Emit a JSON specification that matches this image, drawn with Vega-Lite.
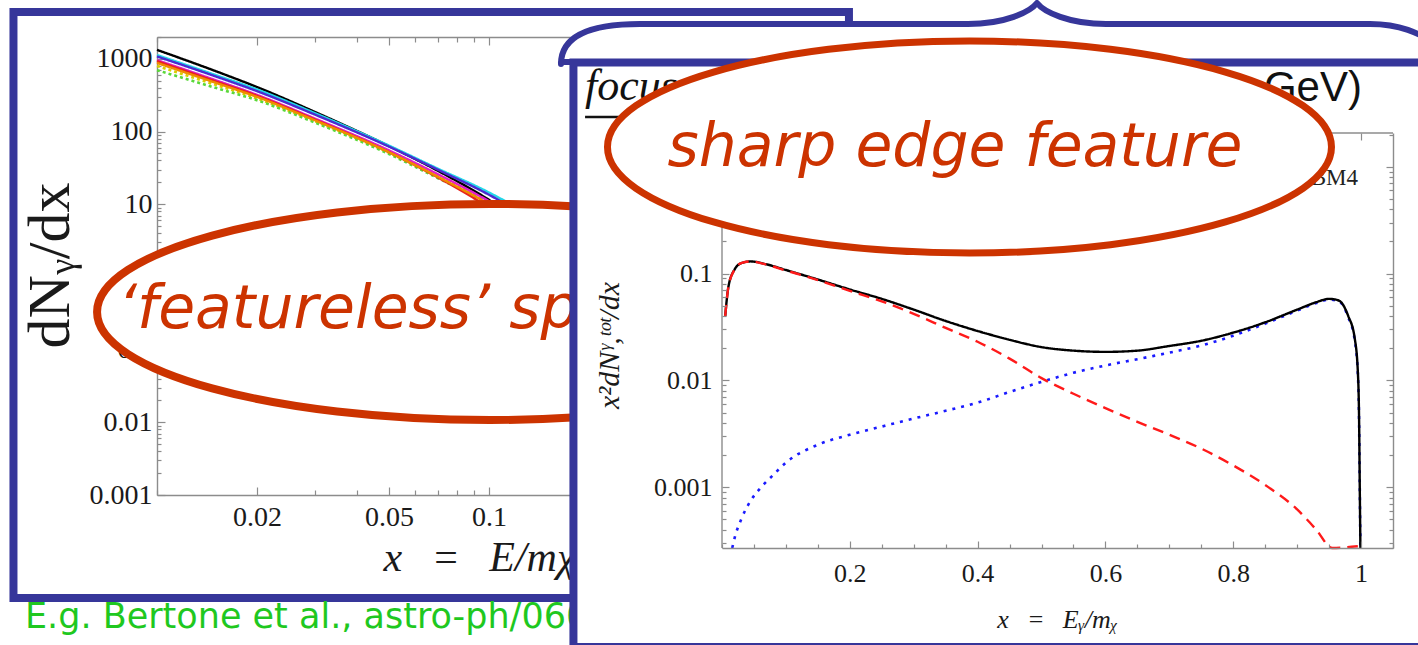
{
  "$schema": "https://vega.github.io/schema/vega-lite/v6.json",
  "background": "white",
  "padding": 0,
  "autosize": {"type": "none"},
  "width": 1418,
  "height": 645,
  "config": {
    "view": {"stroke": null},
    "axis": {
      "grid": false,
      "domainColor": "#8c8c8c", "domainWidth": 1.4,
      "tickColor": "#8c8c8c", "tickWidth": 1.2,
      "labelFont": "Liberation Serif", "labelColor": "#1a1a1a",
      "labelFlush": false, "labelOverlap": false,
      "titleFont": "Liberation Serif", "titleFontWeight": "normal", "titleColor": "#1a1a1a"
    }
  },
  "datasets": {
    "bertone": [
      {"channel": "bb", "x": 0.01, "dNdx": 1330}, {"channel": "bb", "x": 0.015, "dNdx": 680}, {"channel": "bb", "x": 0.02, "dNdx": 410}, {"channel": "bb", "x": 0.03, "dNdx": 185}, {"channel": "bb", "x": 0.05, "dNdx": 63}, {"channel": "bb", "x": 0.07, "dNdx": 29}, {"channel": "bb", "x": 0.1, "dNdx": 11.5}, {"channel": "bb", "x": 0.15, "dNdx": 3.2}, {"channel": "bb", "x": 0.2, "dNdx": 1.0},
      {"channel": "WW", "x": 0.01, "dNdx": 1130}, {"channel": "WW", "x": 0.015, "dNdx": 600}, {"channel": "WW", "x": 0.02, "dNdx": 380}, {"channel": "WW", "x": 0.03, "dNdx": 178}, {"channel": "WW", "x": 0.05, "dNdx": 64}, {"channel": "WW", "x": 0.07, "dNdx": 31}, {"channel": "WW", "x": 0.1, "dNdx": 14.5}, {"channel": "WW", "x": 0.15, "dNdx": 5.0}, {"channel": "WW", "x": 0.2, "dNdx": 2.0},
      {"channel": "ZZ", "x": 0.01, "dNdx": 1080}, {"channel": "ZZ", "x": 0.015, "dNdx": 575}, {"channel": "ZZ", "x": 0.02, "dNdx": 360}, {"channel": "ZZ", "x": 0.03, "dNdx": 170}, {"channel": "ZZ", "x": 0.05, "dNdx": 62}, {"channel": "ZZ", "x": 0.07, "dNdx": 30}, {"channel": "ZZ", "x": 0.1, "dNdx": 13.5}, {"channel": "ZZ", "x": 0.15, "dNdx": 4.5}, {"channel": "ZZ", "x": 0.2, "dNdx": 1.7},
      {"channel": "tt", "x": 0.01, "dNdx": 960}, {"channel": "tt", "x": 0.015, "dNdx": 510}, {"channel": "tt", "x": 0.02, "dNdx": 320}, {"channel": "tt", "x": 0.03, "dNdx": 150}, {"channel": "tt", "x": 0.05, "dNdx": 55}, {"channel": "tt", "x": 0.07, "dNdx": 26}, {"channel": "tt", "x": 0.1, "dNdx": 11}, {"channel": "tt", "x": 0.15, "dNdx": 3.5}, {"channel": "tt", "x": 0.2, "dNdx": 1.2},
      {"channel": "cc", "x": 0.01, "dNdx": 930}, {"channel": "cc", "x": 0.015, "dNdx": 490}, {"channel": "cc", "x": 0.02, "dNdx": 310}, {"channel": "cc", "x": 0.03, "dNdx": 145}, {"channel": "cc", "x": 0.05, "dNdx": 52}, {"channel": "cc", "x": 0.07, "dNdx": 23.5}, {"channel": "cc", "x": 0.1, "dNdx": 9.0}, {"channel": "cc", "x": 0.15, "dNdx": 2.4}, {"channel": "cc", "x": 0.2, "dNdx": 0.7},
      {"channel": "uu", "x": 0.01, "dNdx": 880}, {"channel": "uu", "x": 0.015, "dNdx": 470}, {"channel": "uu", "x": 0.02, "dNdx": 300}, {"channel": "uu", "x": 0.03, "dNdx": 142}, {"channel": "uu", "x": 0.05, "dNdx": 52}, {"channel": "uu", "x": 0.07, "dNdx": 24}, {"channel": "uu", "x": 0.1, "dNdx": 10}, {"channel": "uu", "x": 0.15, "dNdx": 3.0}, {"channel": "uu", "x": 0.2, "dNdx": 1.0},
      {"channel": "ss", "x": 0.01, "dNdx": 800}, {"channel": "ss", "x": 0.015, "dNdx": 440}, {"channel": "ss", "x": 0.02, "dNdx": 285}, {"channel": "ss", "x": 0.03, "dNdx": 138}, {"channel": "ss", "x": 0.05, "dNdx": 51}, {"channel": "ss", "x": 0.07, "dNdx": 24}, {"channel": "ss", "x": 0.1, "dNdx": 10.5}, {"channel": "ss", "x": 0.15, "dNdx": 3.3}, {"channel": "ss", "x": 0.2, "dNdx": 1.1},
      {"channel": "gg", "x": 0.01, "dNdx": 700}, {"channel": "gg", "x": 0.015, "dNdx": 400}, {"channel": "gg", "x": 0.02, "dNdx": 270}, {"channel": "gg", "x": 0.03, "dNdx": 132}, {"channel": "gg", "x": 0.05, "dNdx": 49}, {"channel": "gg", "x": 0.07, "dNdx": 23}, {"channel": "gg", "x": 0.1, "dNdx": 10.2}, {"channel": "gg", "x": 0.15, "dNdx": 3.2}, {"channel": "gg", "x": 0.2, "dNdx": 1.1}
    ],
    "bm4": [
      {"component": "total", "x": 0.005, "x2dNdx": 0.04}, {"component": "total", "x": 0.01, "x2dNdx": 0.075}, {"component": "total", "x": 0.02, "x2dNdx": 0.11}, {"component": "total", "x": 0.03, "x2dNdx": 0.125}, {"component": "total", "x": 0.045, "x2dNdx": 0.13}, {"component": "total", "x": 0.07, "x2dNdx": 0.122}, {"component": "total", "x": 0.1, "x2dNdx": 0.108}, {"component": "total", "x": 0.15, "x2dNdx": 0.088}, {"component": "total", "x": 0.2, "x2dNdx": 0.071}, {"component": "total", "x": 0.25, "x2dNdx": 0.058}, {"component": "total", "x": 0.3, "x2dNdx": 0.046}, {"component": "total", "x": 0.35, "x2dNdx": 0.036}, {"component": "total", "x": 0.4, "x2dNdx": 0.029}, {"component": "total", "x": 0.45, "x2dNdx": 0.024}, {"component": "total", "x": 0.5, "x2dNdx": 0.0205}, {"component": "total", "x": 0.55, "x2dNdx": 0.019}, {"component": "total", "x": 0.6, "x2dNdx": 0.0185}, {"component": "total", "x": 0.65, "x2dNdx": 0.019}, {"component": "total", "x": 0.7, "x2dNdx": 0.021}, {"component": "total", "x": 0.75, "x2dNdx": 0.0235}, {"component": "total", "x": 0.8, "x2dNdx": 0.028}, {"component": "total", "x": 0.85, "x2dNdx": 0.035}, {"component": "total", "x": 0.9, "x2dNdx": 0.046}, {"component": "total", "x": 0.93, "x2dNdx": 0.054}, {"component": "total", "x": 0.95, "x2dNdx": 0.058}, {"component": "total", "x": 0.965, "x2dNdx": 0.056}, {"component": "total", "x": 0.98, "x2dNdx": 0.04}, {"component": "total", "x": 0.99, "x2dNdx": 0.025}, {"component": "total", "x": 0.995, "x2dNdx": 0.012}, {"component": "total", "x": 0.997, "x2dNdx": 0.004}, {"component": "total", "x": 0.998, "x2dNdx": 0.001}, {"component": "total", "x": 0.999, "x2dNdx": 0.00027},
      {"component": "secondary", "x": 0.005, "x2dNdx": 0.04}, {"component": "secondary", "x": 0.01, "x2dNdx": 0.075}, {"component": "secondary", "x": 0.02, "x2dNdx": 0.11}, {"component": "secondary", "x": 0.03, "x2dNdx": 0.125}, {"component": "secondary", "x": 0.045, "x2dNdx": 0.13}, {"component": "secondary", "x": 0.07, "x2dNdx": 0.121}, {"component": "secondary", "x": 0.1, "x2dNdx": 0.107}, {"component": "secondary", "x": 0.15, "x2dNdx": 0.087}, {"component": "secondary", "x": 0.2, "x2dNdx": 0.069}, {"component": "secondary", "x": 0.25, "x2dNdx": 0.055}, {"component": "secondary", "x": 0.3, "x2dNdx": 0.042}, {"component": "secondary", "x": 0.35, "x2dNdx": 0.031}, {"component": "secondary", "x": 0.4, "x2dNdx": 0.023}, {"component": "secondary", "x": 0.45, "x2dNdx": 0.016}, {"component": "secondary", "x": 0.5, "x2dNdx": 0.0105}, {"component": "secondary", "x": 0.55, "x2dNdx": 0.0075}, {"component": "secondary", "x": 0.6, "x2dNdx": 0.0055}, {"component": "secondary", "x": 0.65, "x2dNdx": 0.0041}, {"component": "secondary", "x": 0.7, "x2dNdx": 0.0031}, {"component": "secondary", "x": 0.75, "x2dNdx": 0.0023}, {"component": "secondary", "x": 0.8, "x2dNdx": 0.0016}, {"component": "secondary", "x": 0.85, "x2dNdx": 0.00105}, {"component": "secondary", "x": 0.9, "x2dNdx": 0.00062}, {"component": "secondary", "x": 0.93, "x2dNdx": 0.0004}, {"component": "secondary", "x": 0.955, "x2dNdx": 0.00027}, {"component": "secondary", "x": 0.995, "x2dNdx": 0.00028},
      {"component": "IB", "x": 0.016, "x2dNdx": 0.00027}, {"component": "IB", "x": 0.02, "x2dNdx": 0.00034}, {"component": "IB", "x": 0.03, "x2dNdx": 0.0005}, {"component": "IB", "x": 0.045, "x2dNdx": 0.00075}, {"component": "IB", "x": 0.06, "x2dNdx": 0.00098}, {"component": "IB", "x": 0.08, "x2dNdx": 0.0013}, {"component": "IB", "x": 0.1, "x2dNdx": 0.0017}, {"component": "IB", "x": 0.15, "x2dNdx": 0.0025}, {"component": "IB", "x": 0.2, "x2dNdx": 0.0031}, {"component": "IB", "x": 0.25, "x2dNdx": 0.0037}, {"component": "IB", "x": 0.3, "x2dNdx": 0.0044}, {"component": "IB", "x": 0.35, "x2dNdx": 0.0052}, {"component": "IB", "x": 0.4, "x2dNdx": 0.0062}, {"component": "IB", "x": 0.45, "x2dNdx": 0.0078}, {"component": "IB", "x": 0.5, "x2dNdx": 0.0097}, {"component": "IB", "x": 0.55, "x2dNdx": 0.0118}, {"component": "IB", "x": 0.6, "x2dNdx": 0.0138}, {"component": "IB", "x": 0.65, "x2dNdx": 0.0158}, {"component": "IB", "x": 0.7, "x2dNdx": 0.0182}, {"component": "IB", "x": 0.75, "x2dNdx": 0.0212}, {"component": "IB", "x": 0.8, "x2dNdx": 0.0262}, {"component": "IB", "x": 0.85, "x2dNdx": 0.034}, {"component": "IB", "x": 0.9, "x2dNdx": 0.045}, {"component": "IB", "x": 0.93, "x2dNdx": 0.053}, {"component": "IB", "x": 0.95, "x2dNdx": 0.057}, {"component": "IB", "x": 0.965, "x2dNdx": 0.055}, {"component": "IB", "x": 0.98, "x2dNdx": 0.039}, {"component": "IB", "x": 0.99, "x2dNdx": 0.024}, {"component": "IB", "x": 0.995, "x2dNdx": 0.0115}, {"component": "IB", "x": 0.997, "x2dNdx": 0.0038}, {"component": "IB", "x": 0.998, "x2dNdx": 0.001}, {"component": "IB", "x": 0.999, "x2dNdx": 0.00027}
    ]
  },
  "resolve": {"scale": {"x": "independent", "y": "independent", "color": "independent", "strokeDash": "independent"}},
  "layer": [
    {
      "data": {"values": [{}]},
      "mark": {"type": "rect", "filled": false, "stroke": "#36369a", "strokeWidth": 8},
      "encoding": {
        "x": {"datum": 0.95, "type": "quantitative", "scale": {"domain": [0, 100], "range": [0, 1418], "nice": false, "zero": false}, "axis": null},
        "x2": {"datum": 59.87},
        "y": {"datum": 1.86, "type": "quantitative", "scale": {"domain": [0, 100], "range": [0, 645], "nice": false, "zero": false}, "axis": null},
        "y2": {"datum": 92.71}
      }
    },
    {
      "data": {"name": "bertone"},
      "transform": [{"filter": {"field": "channel", "oneOf": ["ss", "gg"]}}],
      "mark": {"type": "line", "strokeWidth": 2.6, "interpolate": "monotone"},
      "encoding": {
        "x": {"field": "x", "type": "quantitative",
          "scale": {"type": "log", "domain": [0.01, 1], "range": [157, 821], "nice": false},
          "axis": {"orient": "top", "offset": -37, "zindex": 0, "labels": false, "title": null,
            "values": [0.01, 0.02, 0.03, 0.04, 0.05, 0.06, 0.07, 0.08, 0.09, 0.1, 0.2, 0.3, 0.4, 0.5, 0.6, 0.7, 0.8, 0.9, 1],
            "tickSize": {"condition": {"test": "indexof([0.02, 0.05, 0.1, 0.2, 0.5, 1], datum.value) >= 0", "value": -8}, "value": -5}}},
        "y": {"field": "dNdx", "type": "quantitative",
          "scale": {"type": "log", "domain": [0.001, 2000], "range": [495, 37], "nice": false},
          "axis": {"orient": "right", "offset": -597, "zindex": 0, "labels": false, "title": null,
            "values": [0.001, 0.002, 0.003, 0.004, 0.005, 0.006, 0.007, 0.008, 0.009, 0.01, 0.02, 0.03, 0.04, 0.05, 0.06, 0.07, 0.08, 0.09, 0.1, 0.2, 0.3, 0.4, 0.5, 0.6, 0.7, 0.8, 0.9, 1, 2, 3, 4, 5, 6, 7, 8, 9, 10, 20, 30, 40, 50, 60, 70, 80, 90, 100, 200, 300, 400, 500, 600, 700, 800, 900, 1000, 2000],
            "tickSize": {"condition": {"test": "indexof([0.001, 0.01, 0.1, 1, 10, 100, 1000], datum.value) >= 0", "value": -8}, "value": -4}}},
        "color": {"field": "channel", "type": "nominal", "legend": null,
          "scale": {"domain": ["bb", "WW", "ZZ", "tt", "cc", "uu", "ss", "gg"], "range": ["#000000", "#22d8e8", "#4b2bd0", "#e01ec8", "#e8231e", "#f08c00", "#d9cf00", "#5ad83a"]}},
        "strokeDash": {"field": "channel", "type": "nominal", "legend": null,
          "scale": {"domain": ["bb", "WW", "ZZ", "tt", "cc", "uu", "ss", "gg"], "range": [[1, 0], [1, 0], [1, 0], [1, 0], [1, 0], [1, 0], [3, 3], [3, 3]]}}
      }
    },
    {
      "data": {"name": "bertone"},
      "transform": [{"filter": {"field": "channel", "oneOf": ["bb", "WW", "ZZ", "tt", "cc", "uu"]}}],
      "mark": {"type": "line", "strokeWidth": 2.4, "interpolate": "monotone"},
      "encoding": {
        "x": {"field": "x", "type": "quantitative",
          "scale": {"type": "log", "domain": [0.01, 1], "range": [157, 821], "nice": false},
          "axis": {"orient": "bottom", "offset": -150, "zindex": 0,
            "values": [0.01, 0.02, 0.03, 0.04, 0.05, 0.06, 0.07, 0.08, 0.09, 0.1, 0.2, 0.3, 0.4, 0.5, 0.6, 0.7, 0.8, 0.9, 1],
            "labelExpr": "indexof([0.02, 0.05, 0.1, 0.2, 0.5, 1], datum.value) >= 0 ? format(datum.value, '~g') : ''",
            "tickSize": {"condition": {"test": "indexof([0.02, 0.05, 0.1, 0.2, 0.5, 1], datum.value) >= 0", "value": -8}, "value": -5},
            "labelPadding": 16, "labelFontSize": 28,
            "title": "x\u2002\u2009=\u2002\u2009E/mχ", "titleFontSize": 42, "titleFontStyle": "italic",
            "titleX": 383, "titleY": 75, "titleAlign": "left", "titleBaseline": "alphabetic"}},
        "y": {"field": "dNdx", "type": "quantitative",
          "scale": {"type": "log", "domain": [0.001, 2000], "range": [495, 37], "nice": false},
          "axis": {"orient": "left", "offset": -157, "zindex": 0,
            "values": [0.001, 0.002, 0.003, 0.004, 0.005, 0.006, 0.007, 0.008, 0.009, 0.01, 0.02, 0.03, 0.04, 0.05, 0.06, 0.07, 0.08, 0.09, 0.1, 0.2, 0.3, 0.4, 0.5, 0.6, 0.7, 0.8, 0.9, 1, 2, 3, 4, 5, 6, 7, 8, 9, 10, 20, 30, 40, 50, 60, 70, 80, 90, 100, 200, 300, 400, 500, 600, 700, 800, 900, 1000, 2000],
            "labelExpr": "indexof([0.001, 0.01, 0.1, 1, 10, 100, 1000], datum.value) >= 0 ? format(datum.value, '~g') : ''",
            "tickSize": {"condition": {"test": "indexof([0.001, 0.01, 0.1, 1, 10, 100, 1000], datum.value) >= 0", "value": -8}, "value": -4},
            "labelPadding": 13, "labelFontSize": 28,
            "title": "dNᵧ/dx", "titleFontSize": 60, "titleAngle": 270,
            "titleX": -107, "titleY": 265, "titleAlign": "center", "titleBaseline": "middle"}},
        "color": {"field": "channel", "type": "nominal", "legend": null,
          "scale": {"domain": ["bb", "WW", "ZZ", "tt", "cc", "uu", "ss", "gg"], "range": ["#000000", "#22d8e8", "#4b2bd0", "#e01ec8", "#e8231e", "#f08c00", "#d9cf00", "#5ad83a"]}},
        "strokeDash": {"field": "channel", "type": "nominal", "legend": null,
          "scale": {"domain": ["bb", "WW", "ZZ", "tt", "cc", "uu", "ss", "gg"], "range": [[1, 0], [1, 0], [1, 0], [1, 0], [1, 0], [1, 0], [3, 3], [3, 3]]}}
      }
    },
    {
      "data": {"values": [{}]},
      "mark": {"type": "point", "shape": "M-393,0A393,108,0,1,0,393,0A393,108,0,1,0,-393,0Z", "size": 4, "filled": true, "fill": "white", "stroke": "#cc3300", "strokeWidth": 8, "opacity": 1},
      "encoding": {
        "x": {"datum": 34.56, "type": "quantitative", "scale": {"domain": [0, 100], "range": [0, 1418], "nice": false, "zero": false}, "axis": null},
        "y": {"datum": 48.37, "type": "quantitative", "scale": {"domain": [0, 100], "range": [0, 645], "nice": false, "zero": false}, "axis": null}
      }
    },
    {
      "data": {"values": [{"label": "‘featureless’ spectrum"}]},
      "mark": {"type": "text", "font": "DejaVu Sans", "fontStyle": "italic", "fontSize": 60, "color": "#cc3300", "align": "left", "baseline": "alphabetic"},
      "encoding": {
        "x": {"datum": 8.32, "type": "quantitative", "scale": {"domain": [0, 100], "range": [0, 1418], "nice": false, "zero": false}, "axis": null},
        "y": {"datum": 50.85, "type": "quantitative", "scale": {"domain": [0, 100], "range": [0, 645], "nice": false, "zero": false}, "axis": null},
        "text": {"field": "label"}
      }
    },
    {
      "data": {"values": [{"label": "E.g. Bertone et al., astro-ph/0603148"}]},
      "mark": {"type": "text", "font": "DejaVu Sans", "fontSize": 35, "color": "#1fc81f", "align": "left", "baseline": "alphabetic"},
      "encoding": {
        "x": {"datum": 1.76, "type": "quantitative", "scale": {"domain": [0, 100], "range": [0, 1418], "nice": false, "zero": false}, "axis": null},
        "y": {"datum": 97.4, "type": "quantitative", "scale": {"domain": [0, 100], "range": [0, 645], "nice": false, "zero": false}, "axis": null},
        "text": {"field": "label"}
      }
    },
    {
      "data": {"values": [{}]},
      "mark": {"type": "point", "shape": "M-476,64C-476,36,-447,24,-397,24L-69,24C-32,24,-7,12,0,3C7,12,32,24,69,24L333,24C361,24,381,31,408,50L408,62L-476,62Z", "size": 4, "filled": true, "fill": "white", "stroke": "#36369a", "strokeWidth": 6, "strokeJoin": "round", "opacity": 1, "clip": true},
      "encoding": {
        "x": {"datum": 73.13, "type": "quantitative", "scale": {"domain": [0, 100], "range": [0, 1418], "nice": false, "zero": false}, "axis": null},
        "y": {"datum": 0, "type": "quantitative", "scale": {"domain": [0, 100], "range": [0, 645], "nice": false, "zero": false}, "axis": null}
      }
    },
    {
      "data": {"values": [{}]},
      "mark": {"type": "rect", "filled": true, "fill": "white", "stroke": "#36369a", "strokeWidth": 8, "clip": true},
      "encoding": {
        "x": {"datum": 40.44, "type": "quantitative", "scale": {"domain": [0, 100], "range": [0, 1418], "nice": false, "zero": false}, "axis": null},
        "x2": {"datum": 100.85},
        "y": {"datum": 9.69, "type": "quantitative", "scale": {"domain": [0, 100], "range": [0, 645], "nice": false, "zero": false}, "axis": null},
        "y2": {"datum": 100.31}
      }
    },
    {
      "data": {"values": [{}]},
      "mark": {"type": "rule", "color": "#8c8c8c", "strokeWidth": 1.4},
      "encoding": {
        "x": {"datum": 0, "type": "quantitative", "scale": {"domain": [0, 1.05], "range": [722, 1393], "nice": false, "zero": false}, "axis": null},
        "x2": {"datum": 1.05},
        "y": {"datum": 2.07, "type": "quantitative", "scale": {"type": "log", "domain": [0.00027, 2.07], "range": [548, 133], "nice": false}, "axis": null}
      }
    },
    {
      "data": {"values": [{}]},
      "mark": {"type": "rule", "color": "#8c8c8c", "strokeWidth": 1.4},
      "encoding": {
        "x": {"datum": 0, "type": "quantitative", "scale": {"domain": [0, 1.05], "range": [722, 1393], "nice": false, "zero": false}, "axis": null},
        "y": {"datum": 0.00027, "type": "quantitative", "scale": {"type": "log", "domain": [0.00027, 2.07], "range": [548, 133], "nice": false}, "axis": null},
        "y2": {"datum": 2.07}
      }
    },
    {
      "data": {"name": "bm4"},
      "transform": [{"filter": {"field": "component", "oneOf": ["IB"]}}],
      "mark": {"type": "line", "strokeWidth": 2.6, "interpolate": "monotone"},
      "encoding": {
        "x": {"field": "x", "type": "quantitative",
          "scale": {"domain": [0, 1.05], "range": [722, 1393], "nice": false, "zero": false},
          "axis": {"orient": "top", "offset": -133, "zindex": 1, "domain": false, "labels": false, "title": null,
            "values": [1], "tickSize": -7}},
        "y": {"field": "x2dNdx", "type": "quantitative",
          "scale": {"type": "log", "domain": [0.00027, 2.07], "range": [548, 133], "nice": false},
          "axis": {"orient": "right", "offset": -25, "zindex": 1, "labels": false, "title": null,
            "values": [0.0003, 0.0004, 0.0005, 0.0006, 0.0007, 0.0008, 0.0009, 0.001, 0.002, 0.003, 0.004, 0.005, 0.006, 0.007, 0.008, 0.009, 0.01, 0.02, 0.03, 0.04, 0.05, 0.06, 0.07, 0.08, 0.09, 0.1, 0.2, 0.3, 0.4, 0.5, 0.6, 0.7, 0.8, 0.9, 1, 2],
            "tickSize": {"condition": {"test": "indexof([0.001, 0.01, 0.1, 1], datum.value) >= 0", "value": -7}, "value": -4}}},
        "color": {"field": "component", "type": "nominal", "legend": null,
          "scale": {"domain": ["total", "secondary", "IB"], "range": ["#000000", "#ff1a1a", "#1a1aff"]}},
        "strokeDash": {"field": "component", "type": "nominal", "legend": null,
          "scale": {"domain": ["total", "secondary", "IB"], "range": [[1, 0], [11, 7], [3, 6]]}}
      }
    },
    {
      "data": {"name": "bm4"},
      "transform": [{"filter": {"field": "component", "oneOf": ["secondary", "total"]}}],
      "mark": {"type": "line", "strokeWidth": 2.4, "interpolate": "monotone"},
      "encoding": {
        "x": {"field": "x", "type": "quantitative",
          "scale": {"domain": [0, 1.05], "range": [722, 1393], "nice": false, "zero": false},
          "axis": {"orient": "bottom", "offset": -97, "zindex": 1,
            "values": [0, 0.05, 0.1, 0.15, 0.2, 0.25, 0.3, 0.35, 0.4, 0.45, 0.5, 0.55, 0.6, 0.65, 0.7, 0.75, 0.8, 0.85, 0.9, 0.95, 1, 1.05],
            "labelExpr": "indexof([0.2, 0.4, 0.6, 0.8, 1], datum.value) >= 0 ? format(datum.value, '~g') : ''",
            "tickSize": {"condition": {"test": "indexof([0.2, 0.4, 0.6, 0.8, 1], datum.value) >= 0", "value": -7}, "value": -4},
            "labelPadding": 19, "labelFontSize": 26,
            "title": "x\u2002\u2009=\u2002\u2009Eᵧ/mᵪ", "titleFontSize": 26, "titleFontStyle": "italic",
            "titleX": 1057, "titleY": 79, "titleAlign": "center", "titleBaseline": "alphabetic"}},
        "y": {"field": "x2dNdx", "type": "quantitative",
          "scale": {"type": "log", "domain": [0.00027, 2.07], "range": [548, 133], "nice": false},
          "axis": {"orient": "left", "offset": -722, "zindex": 1, "domain": false,
            "values": [0.0003, 0.0004, 0.0005, 0.0006, 0.0007, 0.0008, 0.0009, 0.001, 0.002, 0.003, 0.004, 0.005, 0.006, 0.007, 0.008, 0.009, 0.01, 0.02, 0.03, 0.04, 0.05, 0.06, 0.07, 0.08, 0.09, 0.1, 0.2],
            "labelExpr": "indexof([0.001, 0.01, 0.1], datum.value) >= 0 ? format(datum.value, '~g') : ''",
            "tickSize": {"condition": {"test": "indexof([0.001, 0.01, 0.1], datum.value) >= 0", "value": -7}, "value": -4},
            "labelPadding": 17, "labelFontSize": 26,
            "title": "x²dNᵞ,ᵗᵒᵗ/dx", "titleFontSize": 30, "titleFontStyle": "italic", "titleAngle": 270,
            "titleX": -113, "titleY": 345, "titleAlign": "center", "titleBaseline": "middle"}},
        "color": {"field": "component", "type": "nominal", "legend": null,
          "scale": {"domain": ["total", "secondary", "IB"], "range": ["#000000", "#ff1a1a", "#1a1aff"]}},
        "strokeDash": {"field": "component", "type": "nominal", "legend": null,
          "scale": {"domain": ["total", "secondary", "IB"], "range": [[1, 0], [11, 7], [3, 6]]}}
      }
    },
    {
      "data": {"values": [{"label": "focus on the edge"}]},
      "mark": {"type": "text", "font": "Liberation Serif", "fontStyle": "italic", "fontSize": 44, "color": "#111111", "align": "left", "baseline": "alphabetic"},
      "encoding": {
        "x": {"datum": 41.26, "type": "quantitative", "scale": {"domain": [0, 100], "range": [0, 1418], "nice": false, "zero": false}, "axis": null},
        "y": {"datum": 15.5, "type": "quantitative", "scale": {"domain": [0, 100], "range": [0, 645], "nice": false, "zero": false}, "axis": null},
        "text": {"field": "label"}
      }
    },
    {
      "data": {"values": [{}]},
      "mark": {"type": "rule", "color": "#111111", "strokeWidth": 2.5},
      "encoding": {
        "x": {"datum": 41.26, "type": "quantitative", "scale": {"domain": [0, 100], "range": [0, 1418], "nice": false, "zero": false}, "axis": null},
        "x2": {"datum": 50.78},
        "y": {"datum": 18.14, "type": "quantitative", "scale": {"domain": [0, 100], "range": [0, 645], "nice": false, "zero": false}, "axis": null}
      }
    },
    {
      "data": {"values": [{"label": "(mχ = 150\u2003GeV)"}]},
      "mark": {"type": "text", "font": "Liberation Sans", "fontSize": 42, "color": "#111111", "align": "right", "baseline": "alphabetic"},
      "encoding": {
        "x": {"datum": 96.05, "type": "quantitative", "scale": {"domain": [0, 100], "range": [0, 1418], "nice": false, "zero": false}, "axis": null},
        "y": {"datum": 15.66, "type": "quantitative", "scale": {"domain": [0, 100], "range": [0, 645], "nice": false, "zero": false}, "axis": null},
        "text": {"field": "label"}
      }
    },
    {
      "data": {"values": [{"label": "BM4"}]},
      "mark": {"type": "text", "font": "Liberation Serif", "fontSize": 23, "color": "#222222", "align": "right", "baseline": "alphabetic"},
      "encoding": {
        "x": {"datum": 95.77, "type": "quantitative", "scale": {"domain": [0, 100], "range": [0, 1418], "nice": false, "zero": false}, "axis": null},
        "y": {"datum": 28.68, "type": "quantitative", "scale": {"domain": [0, 100], "range": [0, 645], "nice": false, "zero": false}, "axis": null},
        "text": {"field": "label"}
      }
    },
    {
      "data": {"values": [{}]},
      "mark": {"type": "point", "shape": "M-362,0A362,106,0,1,0,362,0A362,106,0,1,0,-362,0Z", "size": 4, "filled": true, "fill": "white", "stroke": "#cc3300", "strokeWidth": 7, "opacity": 1},
      "encoding": {
        "x": {"datum": 68.37, "type": "quantitative", "scale": {"domain": [0, 100], "range": [0, 1418], "nice": false, "zero": false}, "axis": null},
        "y": {"datum": 22.79, "type": "quantitative", "scale": {"domain": [0, 100], "range": [0, 645], "nice": false, "zero": false}, "axis": null}
      }
    },
    {
      "data": {"values": [{"label": "sharp edge feature"}]},
      "mark": {"type": "text", "font": "DejaVu Sans", "fontStyle": "italic", "fontSize": 60, "color": "#cc3300", "align": "center", "baseline": "alphabetic"},
      "encoding": {
        "x": {"datum": 67.35, "type": "quantitative", "scale": {"domain": [0, 100], "range": [0, 1418], "nice": false, "zero": false}, "axis": null},
        "y": {"datum": 25.74, "type": "quantitative", "scale": {"domain": [0, 100], "range": [0, 645], "nice": false, "zero": false}, "axis": null},
        "text": {"field": "label"}
      }
    }
  ]
}
